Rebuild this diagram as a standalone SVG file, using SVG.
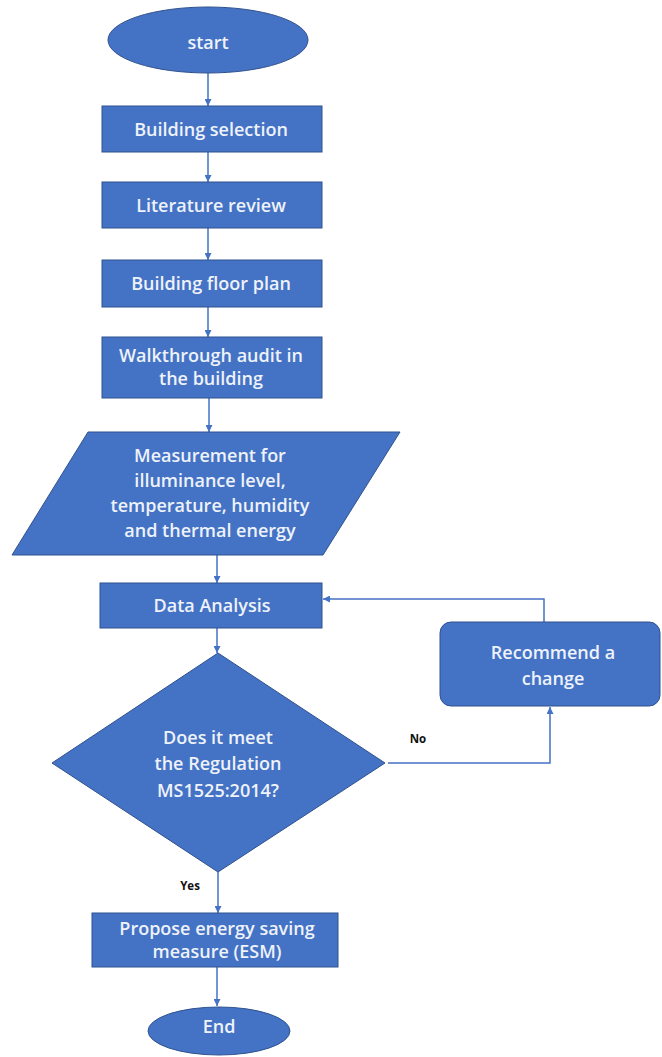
<svg xmlns="http://www.w3.org/2000/svg" width="662" height="1057" viewBox="0 0 662 1057">
<style>
.n{fill:#4472C4;stroke:#2F528F;stroke-width:1}
.t{font-family:"Open Sans","Liberation Sans",sans-serif;font-size:18px;font-weight:600;fill:#EEF2FA;text-anchor:middle;dominant-baseline:central}
.l{font-family:"Open Sans","Liberation Sans",sans-serif;font-size:11.5px;font-weight:700;fill:#111;text-anchor:middle;dominant-baseline:central}
.c{fill:none;stroke:#4472C4;stroke-width:1.5}
</style>
<defs>
<marker id="a" viewBox="0 0 10 10" refX="10" refY="5" markerWidth="7" markerHeight="7" markerUnits="userSpaceOnUse" orient="auto">
<path d="M0,0 L10,5 L0,10 z" fill="#4472C4"/>
</marker>
</defs>
<rect width="662" height="1057" fill="#fff"/>
<g id="connectors">
<path class="c" d="M208,73 V106" marker-end="url(#a)"/>
<path class="c" d="M208,152 V182" marker-end="url(#a)"/>
<path class="c" d="M208,228 V260" marker-end="url(#a)"/>
<path class="c" d="M208,307 V337" marker-end="url(#a)"/>
<path class="c" d="M209,398 V432" marker-end="url(#a)"/>
<path class="c" d="M217,555 V583" marker-end="url(#a)"/>
<path class="c" d="M217,628 V653" marker-end="url(#a)"/>
<path class="c" d="M218,872 V913" marker-end="url(#a)"/>
<path class="c" d="M217,967 V1006" marker-end="url(#a)"/>
<path class="c" d="M388,763 H550 V707" marker-end="url(#a)"/>
<path class="c" d="M544,622 V599 H323" marker-end="url(#a)"/>
<text class="l" x="418" y="738">No</text>
<text class="l" x="190" y="885">Yes</text>
</g>
<g id="start">
<ellipse class="n" cx="208" cy="40" rx="100" ry="33"/>
<text class="t" x="208" y="42">start</text>
</g>
<g id="building-selection">
<rect class="n" x="102" y="106" width="220" height="46"/>
<text class="t" x="211" y="129">Building selection</text>
</g>
<g id="literature-review">
<rect class="n" x="102" y="182" width="220" height="46"/>
<text class="t" x="211" y="205">Literature review</text>
</g>
<g id="floor-plan">
<rect class="n" x="102" y="260" width="220" height="47"/>
<text class="t" x="211" y="283">Building floor plan</text>
</g>
<g id="walkthrough">
<rect class="n" x="102" y="337" width="220" height="61"/>
<text class="t" x="211" y="355">Walkthrough audit in</text>
<text class="t" x="211" y="378">the building</text>
</g>
<g id="measurement">
<polygon class="n" points="88,432 400,432 323,555 12,555"/>
<text class="t" x="210" y="455">Measurement for</text>
<text class="t" x="210" y="480">illuminance level,</text>
<text class="t" x="210" y="505">temperature, humidity</text>
<text class="t" x="210" y="530">and thermal energy</text>
</g>
<g id="data-analysis">
<rect class="n" x="100" y="583" width="222" height="45"/>
<text class="t" x="212" y="605">Data Analysis</text>
</g>
<g id="decision">
<polygon class="n" points="218,653 385,763 218,872 52,763"/>
<text class="t" x="218" y="737">Does it meet</text>
<text class="t" x="218" y="763">the Regulation</text>
<text class="t" x="218" y="790">MS1525:2014?</text>
</g>
<g id="recommend">
<rect class="n" x="440" y="622" width="220" height="84" rx="11"/>
<text class="t" x="553" y="652">Recommend a</text>
<text class="t" x="553" y="678">change</text>
</g>
<g id="propose">
<rect class="n" x="92" y="913" width="246" height="54"/>
<text class="t" x="217" y="928">Propose energy saving</text>
<text class="t" x="217" y="951">measure (ESM)</text>
</g>
<g id="end">
<ellipse class="n" cx="219" cy="1031" rx="71" ry="24"/>
<text class="t" x="219" y="1026">End</text>
</g>
</svg>
